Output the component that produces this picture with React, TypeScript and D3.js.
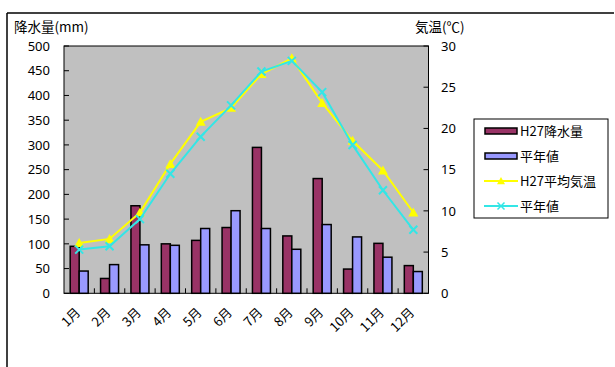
import React from "react";
import * as d3 from "d3";

const months = ["1月","2月","3月","4月","5月","6月","7月","8月","9月","10月","11月","12月"];
const rainH27 = [95, 30, 177, 100, 107, 133, 295, 116, 232, 49, 101, 56];
const rainNormal = [45, 58, 98, 97, 131, 167, 131, 89, 139, 114, 73, 44];
const tempH27 = [6.1, 6.6, 9.8, 15.7, 20.8, 22.5, 26.6, 28.5, 23.1, 18.5, 14.9, 9.8];
const tempNormal = [5.3, 5.7, 9.0, 14.5, 19.0, 22.8, 26.9, 28.2, 24.4, 18.0, 12.5, 7.7];
const leftTicks = [0, 50, 100, 150, 200, 250, 300, 350, 400, 450, 500];
const rightTicks = [0, 5, 10, 15, 20, 25, 30];
const legendLabels = ["H27降水量", "平年値", "H27平均気温", "平年値"];

const C_RAIN = "#993366";
const C_NORM = "#9999ff";
const C_T27 = "#ffff00";
const C_TN = "#33e6e6";
const FONT = "'Noto Sans CJK JP', 'Noto Sans', sans-serif";
const NUMFONT = "'Noto Sans', sans-serif";

export default function App() {
  const W = 615, H = 367;
  const L = 64, R = 428.5, T = 46, B = 293.3;
  const x = d3.scaleBand<string>().domain(months).range([L, R]).padding(0);
  const yL = d3.scaleLinear().domain([0, 500]).range([B, T]);
  const yR = d3.scaleLinear().domain([0, 30]).range([B, T]);
  const bw = 9;
  const cx = (m: string) => (x(m) as number) + x.bandwidth() / 2;

  const line = (vals: number[]) =>
    d3.line<number>().x((_, i) => cx(months[i])).y((v) => yR(v))(vals) as string;

  const tri = (px: number, py: number, s = 5) =>
    `M${px},${py - s}L${px + s},${py + s * 0.8}L${px - s},${py + s * 0.8}Z`;
  const cross = (px: number, py: number, s = 4) =>
    `M${px - s},${py - s}L${px + s},${py + s}M${px + s},${py - s}L${px - s},${py + s}`;

  const legendRows = [131, 156, 181, 206];

  return (
    <svg width={W} height={H} style={{ position: "absolute", left: 0, top: 0, fontFamily: FONT }}>
      <rect x={0} y={0} width={W} height={H} fill="#fff" />
      {/* outer chart border */}
      <line x1={7} y1={13} x2={614} y2={13} stroke="#000" strokeWidth={1.5} />
      <line x1={7} y1={13} x2={7} y2={H} stroke="#000" strokeWidth={1.5} />

      {/* plot area */}
      <rect x={L} y={T} width={R - L} height={B - T} fill="#c0c0c0" stroke="#000" strokeWidth={1} />

      {/* left ticks */}
      {leftTicks.map((t) => (
        <g key={"l" + t}>
          <line x1={L} x2={L + 5} y1={yL(t)} y2={yL(t)} stroke="#000" />
          <text x={50} y={yL(t)} dy="0.36em" textAnchor="end" fontSize={13} fontFamily={NUMFONT} fill="#000">{t}</text>
        </g>
      ))}
      {/* right ticks */}
      {rightTicks.map((t) => (
        <g key={"r" + t}>
          <line x1={R - 5} x2={R} y1={yR(t)} y2={yR(t)} stroke="#000" />
          <text x={441} y={yR(t)} dy="0.36em" textAnchor="start" fontSize={13} fontFamily={NUMFONT} fill="#000">{t}</text>
        </g>
      ))}
      {/* category ticks */}
      {months.slice(1).map((m) => (
        <line key={"c" + m} x1={x(m) as number} x2={x(m) as number} y1={B} y2={B - 5} stroke="#000" />
      ))}

      {/* bars */}
      {months.map((m, i) => (
        <g key={"b" + m}>
          <rect x={cx(m) - bw} y={yL(rainH27[i])} width={bw} height={B - yL(rainH27[i])}
            fill={C_RAIN} stroke="#000" strokeWidth={1.5} />
          <rect x={cx(m)} y={yL(rainNormal[i])} width={bw} height={B - yL(rainNormal[i])}
            fill={C_NORM} stroke="#000" strokeWidth={1.5} />
        </g>
      ))}

      {/* lines */}
      <path d={line(tempH27)} fill="none" stroke={C_T27} strokeWidth={2} />
      {tempH27.map((v, i) => (
        <path key={"t" + i} d={tri(cx(months[i]), yR(v))} fill={C_T27} />
      ))}
      <path d={line(tempNormal)} fill="none" stroke={C_TN} strokeWidth={2} />
      {tempNormal.map((v, i) => (
        <path key={"n" + i} d={cross(cx(months[i]), yR(v))} stroke={C_TN} strokeWidth={2} fill="none" />
      ))}

      {/* month labels */}
      {months.map((m) => (
        <text key={"m" + m} transform={`translate(${cx(m) + 2},${B + 20}) rotate(-45)`}
          textAnchor="end" fontSize={13} fill="#000">{m}</text>
      ))}

      {/* axis titles */}
      <text x={14} y={32} fontSize={13.5} fill="#000">降水量(mm)</text>
      <text x={415} y={32} fontSize={13.5} fill="#000">気温(℃)</text>

      {/* legend */}
      <rect x={474} y={119} width={134} height={99} fill="#fff" stroke="#000" strokeWidth={1} />
      {legendLabels.map((lab, i) => {
        const yy = legendRows[i];
        return (
          <g key={"lg" + i}>
            {i === 0 && <rect x={485} y={yy - 3} width={32} height={6} fill={C_RAIN} stroke="#000" strokeWidth={1.5} />}
            {i === 1 && <rect x={485} y={yy - 3} width={32} height={6} fill={C_NORM} stroke="#000" strokeWidth={1.5} />}
            {i === 2 && (
              <g>
                <line x1={484} x2={518} y1={yy} y2={yy} stroke={C_T27} strokeWidth={2} />
                <path d={tri(501, yy, 4)} fill={C_T27} />
              </g>
            )}
            {i === 3 && (
              <g>
                <line x1={484} x2={518} y1={yy} y2={yy} stroke={C_TN} strokeWidth={2} />
                <path d={cross(501, yy, 3.5)} stroke={C_TN} strokeWidth={1.5} />
              </g>
            )}
            <text x={520} y={yy} dy="0.36em" fontSize={13} fill="#000">{lab}</text>
          </g>
        );
      })}
    </svg>
  );
}
